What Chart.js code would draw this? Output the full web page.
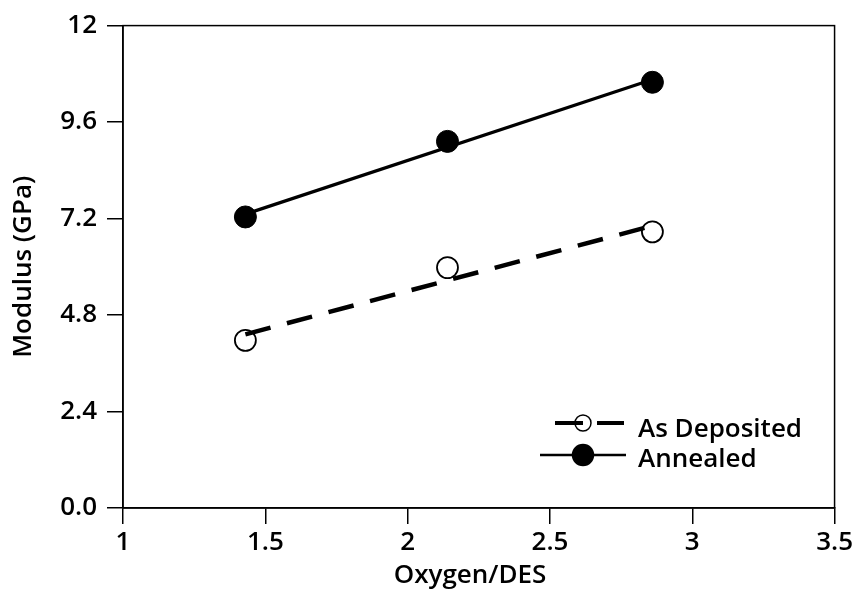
<!DOCTYPE html>
<html>
<head>
<meta charset="utf-8">
<script src="https://cdn.jsdelivr.net/npm/chart.js@4/dist/chart.umd.min.js"></script>
<style>
  html, body { margin: 0; padding: 0; background: #fff; }
  #wrap { width: 856px; height: 591px; }
</style>
</head>
<body>
<div id="wrap"><canvas id="graphModulus" width="856" height="591"></canvas></div>
<script>
// Données
const A_oxygenRatio = [1.43, 2.14, 2.86];
const A_asDeposited = [4.17, 5.98, 6.87];
const A_annealed = [7.24, 9.12, 10.59];

// Droites de tendance (extrémités)
const A_fitRatio = [1.43, 2.86];
const A_asDepositedFit = [4.32, 7.02];
const A_annealedFit = [7.31, 10.66];

const A_xTicks = [1, 1.5, 2, 2.5, 3, 3.5];
const A_xTickLabels = ["1", "1.5", "2", "2.5", "3", "3.5"];
const A_yTicks = [0, 2.4, 4.8, 7.2, 9.6, 12];
const A_yTickLabels = ["0.0", "2.4", "4.8", "7.2", "9.6", "12"];

const S_xTitle = "Oxygen/DES";
const S_yTitle = "Modulus (GPa)";

const S_font = "'Open Sans', 'DejaVu Sans', sans-serif";
const I_fontSize = 26;

const F_pairs = (A_x, A_y) => A_x.map((V_x, I_i) => ({ x: V_x, y: A_y[I_i] }));

// Cadre autour de la zone de tracé + titre de l'axe x
const O_framePlugin = {
  id: "frame",
  afterDatasetsDraw(O_chart) {
    const { ctx, chartArea: O_a } = O_chart;
    ctx.save();
    ctx.strokeStyle = "#000";
    ctx.lineWidth = 1.5;
    ctx.strokeRect(O_a.left, O_a.top, O_a.right - O_a.left, O_a.bottom - O_a.top);
    ctx.restore();
  },
  afterDraw(O_chart) {
    const ctx = O_chart.ctx;
    ctx.save();
    ctx.fillStyle = "#000";
    ctx.font = "600 " + I_fontSize + "px " + S_font;
    ctx.textAlign = "center";
    ctx.textBaseline = "alphabetic";
    ctx.fillText(S_xTitle, 470, 583);
    ctx.restore();
  },
};

// Légende dessinée à la main (trait + marqueur)
const O_legendPlugin = {
  id: "customLegend",
  afterDraw(O_chart) {
    const ctx = O_chart.ctx;
    const A_items = [
      { label: "As Deposited", y: 423, base: 437, filled: false, dash: true, x0: 555, x1: 624, r: 8 },
      { label: "Annealed", y: 455, base: 467, filled: true, dash: false, x0: 540, x1: 626, r: 10.5 },
    ];
    ctx.save();
    A_items.forEach((O_it) => {
      const I_cx = 583;
      ctx.strokeStyle = "#000";
      if (O_it.dash) {
        ctx.lineWidth = 4;
        ctx.beginPath();
        ctx.moveTo(O_it.x0, O_it.y);
        ctx.lineTo(I_cx, O_it.y);
        ctx.moveTo(I_cx + O_it.r + 6, O_it.y);
        ctx.lineTo(O_it.x1, O_it.y);
        ctx.stroke();
      } else {
        ctx.lineWidth = 2.5;
        ctx.beginPath();
        ctx.moveTo(O_it.x0, O_it.y);
        ctx.lineTo(O_it.x1, O_it.y);
        ctx.stroke();
      }
      ctx.beginPath();
      ctx.arc(I_cx, O_it.y, O_it.r, 0, Math.PI * 2);
      if (O_it.filled) {
        ctx.fillStyle = "#000";
        ctx.fill();
      }
      ctx.lineWidth = 1.5;
      ctx.stroke();
      ctx.fillStyle = "#000";
      ctx.font = "600 " + I_fontSize + "px " + S_font;
      ctx.textAlign = "left";
      ctx.textBaseline = "alphabetic";
      ctx.fillText(O_it.label, 638, O_it.base);
    });
    ctx.restore();
  },
};

const O_ctx = document.getElementById("graphModulus").getContext("2d");
new Chart(O_ctx, {
  type: "scatter",
  data: {
    datasets: [
      {
        label: "As Deposited fit",
        type: "line",
        data: F_pairs(A_fitRatio, A_asDepositedFit),
        borderColor: "#000",
        borderWidth: 4.5,
        borderDash: [26, 17],
        pointRadius: 0,
        order: 0,
      },
      {
        label: "Annealed fit",
        type: "line",
        data: F_pairs(A_fitRatio, A_annealedFit),
        borderColor: "#000",
        borderWidth: 3.2,
        pointRadius: 0,
        order: 0,
      },
      {
        label: "As Deposited",
        data: F_pairs(A_oxygenRatio, A_asDeposited),
        pointRadius: 10.5,
        pointBackgroundColor: "#fff",
        pointBorderColor: "#000",
        pointBorderWidth: 1.8,
        order: 1,
      },
      {
        label: "Annealed",
        data: F_pairs(A_oxygenRatio, A_annealed),
        pointRadius: 11,
        pointBackgroundColor: "#000",
        pointBorderColor: "#000",
        pointBorderWidth: 1,
        order: 1,
      },
    ],
  },
  options: {
    responsive: false,
    animation: false,
    layout: { padding: { top: 24, right: 19, left: 0, bottom: 0 } },
    plugins: {
      legend: { display: false },
      tooltip: { enabled: false },
    },
    scales: {
      x: {
        type: "linear",
        min: 1,
        max: 3.5,
        afterBuildTicks: (O_s) => { O_s.ticks = A_xTicks.map((V) => ({ value: V })); },
        afterFit: (O_s) => { O_s.height = 83; },
        border: { display: true, color: "#000", width: 1.5 },
        grid: { display: true, drawOnChartArea: false, drawTicks: true, tickLength: 16, color: "#000", lineWidth: 1.5 },
        ticks: {
          padding: 3,
          color: "#000",
          font: { family: S_font, size: I_fontSize, weight: "600" },
          callback: (V, I_i) => A_xTickLabels[I_i],
          maxRotation: 0,
        },
        title: { display: false },
      },
      y: {
        type: "linear",
        min: 0,
        max: 12,
        afterBuildTicks: (O_s) => { O_s.ticks = A_yTicks.map((V) => ({ value: V })); },
        afterFit: (O_s) => { O_s.width = 123; },
        border: { display: true, color: "#000", width: 1.5 },
        grid: { display: true, drawOnChartArea: false, drawTicks: true, tickLength: 16, color: "#000", lineWidth: 1.5 },
        ticks: {
          padding: 10,
          color: "#000",
          font: { family: S_font, size: I_fontSize, weight: "600" },
          callback: (V, I_i) => A_yTickLabels[I_i],
        },
        title: {
          display: true,
          text: S_yTitle,
          color: "#000",
          font: { family: S_font, size: I_fontSize, weight: "600" },
          padding: { top: 8, bottom: 0 },
        },
      },
    },
  },
  plugins: [O_framePlugin, O_legendPlugin],
});
</script>
</body>
</html>
